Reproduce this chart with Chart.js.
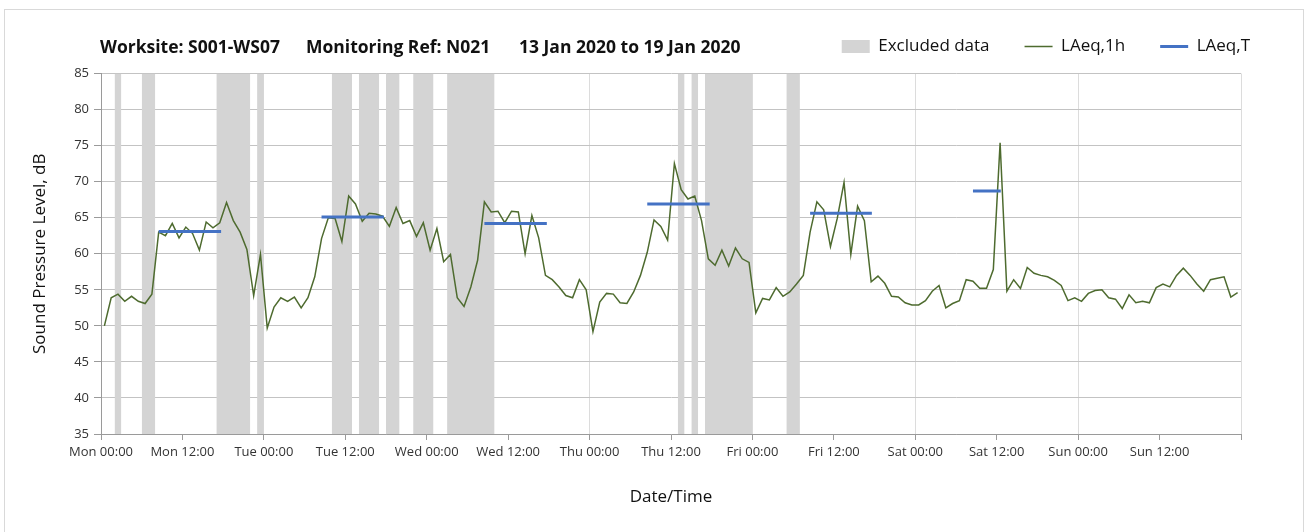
<!DOCTYPE html>
<html>
<head>
<meta charset="utf-8">
<title>Noise monitoring S001-WS07</title>
<script src="https://cdn.jsdelivr.net/npm/chart.js@4/dist/chart.umd.min.js"></script>
<style>
  html, body { margin: 0; padding: 0; background: #fff; }
  #wrap { position: relative; width: 1309px; height: 532px; overflow: hidden; font-family: "Open Sans", sans-serif; }
  #frame { position: absolute; left: 4px; top: 9px; width: 1298px; height: 600px; border: 1px solid #d9d9d9; }
  canvas { position: absolute; left: 0; top: 0; }
  .ttl { position: absolute; top: 35px; font-weight: bold; font-size: 17.5px; line-height: 22px; color: #111; white-space: nowrap; }
</style>
</head>
<body>
<div id="wrap">
  <div id="frame"></div>
  <canvas id="noiseChart" width="1309" height="532"></canvas>
  <div class="ttl" style="left:100px">Worksite: S001-WS07</div>
  <div class="ttl" style="left:306px">Monitoring Ref: N021</div>
  <div class="ttl" style="left:519px">13 Jan 2020 to 19 Jan 2020</div>
</div>
<script>
// x axis = hours since Mon 00:00, one tick every 12 h
const xTickLabels = [
  "Mon 00:00", "Mon 12:00", "Tue 00:00", "Tue 12:00", "Wed 00:00", "Wed 12:00",
  "Thu 00:00", "Thu 12:00", "Fri 00:00", "Fri 12:00", "Sat 00:00", "Sat 12:00",
  "Sun 00:00", "Sun 12:00", ""
];

// LAeq,1h - one value per hour, Mon 00:00 -> Sun 24:00
const hourlyLevels = [
  50.0, 53.9, 54.4, 53.4, 54.1, 53.4, 53.1, 54.4, 63.0, 62.5, 64.2, 62.2,
  63.7, 62.8, 60.5, 64.4, 63.6, 64.3, 67.1, 64.6, 63.0, 60.6, 54.2, 59.9,
  49.7, 52.6, 53.9, 53.4, 54.0, 52.5, 53.9, 56.8, 62.1, 65.0, 64.9, 61.7,
  68.0, 66.9, 64.5, 65.6, 65.5, 65.2, 63.8, 66.4, 64.2, 64.6, 62.4, 64.3,
  60.5, 63.5, 58.9, 59.9, 53.9, 52.7, 55.4, 59.1, 67.2, 65.8, 65.9, 64.3,
  65.9, 65.8, 60.0, 65.3, 62.2, 57.0, 56.4, 55.4, 54.2, 53.9, 56.4, 55.0,
  49.2, 53.3, 54.5, 54.4, 53.2, 53.1, 54.7, 57.0, 60.2, 64.7, 63.8, 61.9,
  72.5, 68.9, 67.6, 68.0, 64.6, 59.3, 58.4, 60.5, 58.3, 60.8, 59.3, 58.8,
  51.8, 53.8, 53.6, 55.3, 54.1, 54.7, 55.8, 57.0, 63.0, 67.2, 66.1, 61.0,
  64.9, 69.9, 59.9, 66.6, 64.6, 56.1, 56.9, 55.9, 54.1, 54.0, 53.2, 52.9,
  52.9, 53.5, 54.8, 55.6, 52.5, 53.1, 53.5, 56.4, 56.2, 55.2, 55.2, 57.8,
  75.4, 54.8, 56.4, 55.2, 58.1, 57.3, 57.0, 56.8, 56.3, 55.6, 53.5, 53.9,
  53.4, 54.5, 54.9, 55.0, 53.9, 53.7, 52.4, 54.3, 53.2, 53.4, 53.2, 55.3,
  55.8, 55.4, 57.0, 58.0, 57.0, 55.8, 54.8, 56.4, 56.6, 56.8, 54.0, 54.6
];

// LAeq,T - daytime periods (hours) and level
const periodStart = [8.5, 32.5, 56.5, 80.5, 104.5, 128.5];
const periodEnd   = [17.7, 41.7, 65.7, 89.7, 113.6, 132.6];
const periodLevel = [63.1, 65.1, 64.2, 66.9, 65.6, 68.7];

// excluded data windows (hours)
const excludedStart = [2, 6, 17, 23, 34, 38, 42, 46, 51, 85, 87, 89, 101];
const excludedEnd   = [3, 8, 22, 24, 37, 41, 44, 49, 58, 86, 88, 96, 103];

const colors = {
  excluded: "#d4d4d4",
  hourly: "#4e6b2f",
  period: "#4472c4",
  gridH: "#c3c3c3",
  gridV: "#dcdcdc",
  axis: "#9a9a9a",
  text: "#111111",
  tick: "#333333",
};

const FONT = "'Open Sans', sans-serif";
Chart.defaults.font.family = FONT;

// one filled dataset per excluded window, filled down to the axis
const bandSets = excludedStart.map((s, i) => ({
  label: "Excluded data",
  data: [{ x: s, y: 85 }, { x: excludedEnd[i], y: 85 }],
  fill: "start",
  backgroundColor: colors.excluded,
  borderColor: "rgba(0,0,0,0)",
  borderWidth: 0,
  pointRadius: 0,
  pointBorderWidth: 0,
  pointBackgroundColor: colors.excluded,
  pointStyle: "rect",
  order: 3,
}));

const hourlyPoints = hourlyLevels.map((v, i) => ({ x: i + 0.5, y: v }));

const periodPoints = [];
periodStart.forEach((s, i) => {
  periodPoints.push({ x: s, y: periodLevel[i] });
  periodPoints.push({ x: periodEnd[i], y: periodLevel[i] });
  periodPoints.push({ x: periodEnd[i], y: null });
});

// legend sits higher than the chart area top, add a bit of room under it
const legendGap = {
  id: "legendGap",
  beforeInit(chart) {
    const fit = chart.legend.fit;
    chart.legend.fit = function () {
      fit.call(this);
      this.height += 8.5;
    };
  },
};

new Chart(document.getElementById("noiseChart"), {
  type: "line",
  data: {
    datasets: [
      ...bandSets,
      {
        label: "LAeq,1h",
        data: hourlyPoints,
        borderColor: colors.hourly,
        borderWidth: 1.5,
        pointBorderWidth: 1.5,
        pointBorderColor: colors.hourly,
        pointRadius: 0,
        pointStyle: "line",
        tension: 0,
        fill: false,
        order: 2,
      },
      {
        label: "LAeq,T",
        data: periodPoints,
        borderColor: colors.period,
        borderWidth: 3,
        pointBorderWidth: 3,
        pointBorderColor: colors.period,
        pointRadius: 0,
        pointStyle: "line",
        spanGaps: false,
        fill: false,
        order: 1,
      },
    ],
  },
  options: {
    responsive: false,
    animation: false,
    layout: { padding: { left: 20, right: 24, top: 3, bottom: 15 } },
    plugins: {
      tooltip: { enabled: false },
      legend: {
        position: "top",
        align: "end",
        labels: {
          usePointStyle: true,
          pointStyleWidth: 28,
          boxHeight: 13,
          padding: 35,
          color: colors.text,
          font: { family: FONT, size: 17 },
          filter: (item) => item.datasetIndex === 0 || item.datasetIndex >= bandSets.length,
          sort: (a, b) => a.datasetIndex - b.datasetIndex,
        },
      },
    },
    scales: {
      x: {
        type: "linear",
        min: 0,
        max: 168,
        ticks: {
          stepSize: 12,
          autoSkip: false,
          maxRotation: 0,
          padding: 4,
          color: colors.tick,
          font: { size: 13 },
          callback: (v) => xTickLabels[Math.round(v / 12)] ?? "",
        },
        grid: {
          color: (c) => (c.tick && c.tick.value % 24 === 0 ? colors.gridV : "rgba(0,0,0,0)"),
          tickColor: colors.axis,
          tickLength: 6,
          lineWidth: 1,
        },
        border: { color: colors.axis, width: 1 },
        title: {
          display: true,
          text: "Date/Time",
          color: colors.text,
          font: { size: 17 },
          padding: { top: 0, bottom: 10 },
        },
        afterFit: (s) => { s.height = 83; },
      },
      y: {
        min: 35,
        max: 85,
        ticks: { stepSize: 5, padding: 5, color: colors.tick, font: { size: 13 } },
        grid: { color: colors.gridH, tickColor: colors.axis, tickLength: 7, lineWidth: 1 },
        border: { color: colors.axis, width: 1 },
        title: {
          display: true,
          text: "Sound Pressure Level, dB",
          color: colors.text,
          font: { size: 17 },
          padding: { top: 10, bottom: 0 },
        },
        afterFit: (s) => { s.width = 81; },
      },
      // empty right box so the legend can run past the plot edge
      yRight: {
        type: "linear",
        position: "right",
        grid: { display: false },
        ticks: { display: false },
        border: { display: false },
        afterFit: (s) => { s.width = 44; },
      },
    },
  },
  plugins: [legendGap],
});
</script>
</body>
</html>
